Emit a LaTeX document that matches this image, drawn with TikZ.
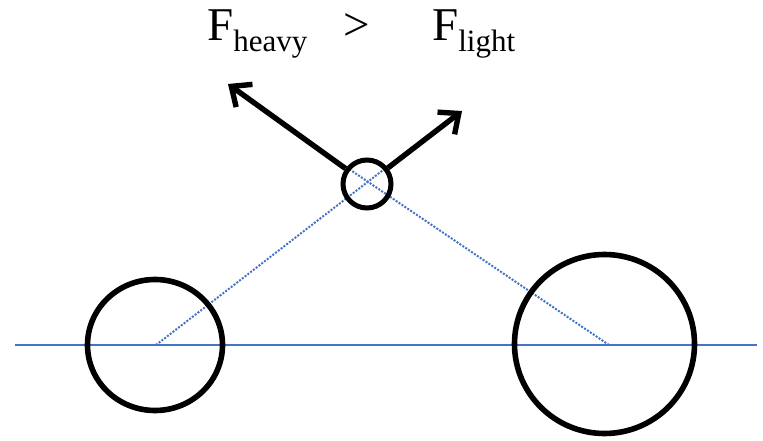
\documentclass[tikz,border=0pt]{standalone}
\usepackage{fontspec}
\setmainfont{Liberation Serif}
\usetikzlibrary{arrows.meta,shapes.geometric}
\definecolor{offblue}{HTML}{4472C4}
\tikzset{
  body/.style={draw=black, line width=5.6pt, inner sep=0pt},
  axis/.style={draw=offblue, line width=2.2pt},
  guide/.style={draw=offblue, line width=2pt, dash pattern=on 2pt off 1.5pt},
  force/.style={draw=black, line width=5.4pt, -{Straight Barb[length=16pt,width=28pt,line width=5.4pt]}},
  lbl/.style={inner sep=0pt, anchor=base west, font=\fontsize{47}{50}\selectfont}
}
\newcommand{\subtxt}[1]{\raisebox{-11.5pt}{\fontsize{31}{34}\selectfont #1}}
\begin{document}
\begin{tikzpicture}[x=1pt,y=-1pt]
\useasboundingbox (0,0) rectangle (763,441);
% centres
\coordinate (cl) at (156,345);
\coordinate (cr) at (609,345);
\coordinate (axL) at (15,345);
\coordinate (axR) at (757,345);
\coordinate (gL) at (287,127);
\coordinate (gR) at (439,127);
% guides
\draw[guide] (cl) -- (gR);
\draw[guide] (cr) -- (gL);
% axis
\draw[axis] (axL) -- (axR);
% bodies
\node[body, ellipse, minimum width=135pt, minimum height=131pt] (bl) at (155,345) {};
\node[body, ellipse, minimum width=180pt, minimum height=179pt] (br) at (604.5,344) {};
\node[body, circle, line width=5pt, minimum size=48pt] (m) at (367,184) {};
% forces
\coordinate (tH) at (228,84);
\coordinate (tL) at (462,111);
\draw[force] (m) -- (tH);
\draw[force] (m) -- (tL);
% labels
\node[lbl] (fh) at (207,40.5) {F\subtxt{heavy}};
\node[lbl] (gt) at (343,40.5) {>};
\node[lbl] (fl) at (432,40.5) {F\subtxt{light}};
\end{tikzpicture}
\end{document}
